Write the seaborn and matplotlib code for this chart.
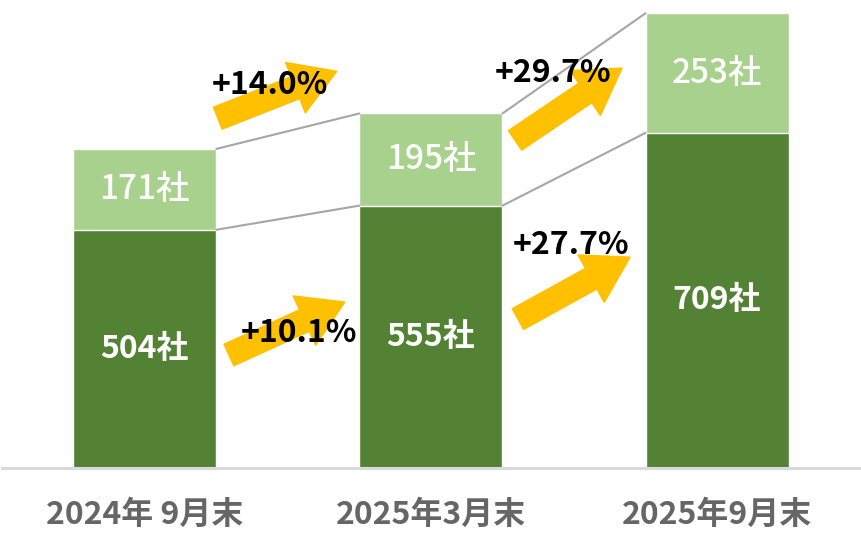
import matplotlib
matplotlib.use('Agg')
import matplotlib.pyplot as plt
import seaborn as sns
import pandas as pd
from matplotlib.patches import FancyArrowPatch

# データ
periods = ['2024年 9月末', '2025年3月末', '2025年9月末']
main_cnt = [504, 555, 709]
sub_cnt = [171, 195, 253]
total_cnt = [m + s for m, s in zip(main_cnt, sub_cnt)]
growth_total = ['+14.0%', '+29.7%']
growth_main = ['+10.1%', '+27.7%']

sns.set_style('white')
plt.rcParams['font.family'] = ['Noto Sans CJK JP', 'DejaVu Sans']

df = pd.DataFrame({'period': periods, 'main': main_cnt, 'total': total_cnt})

fig = plt.figure(figsize=(8.61, 5.47), dpi=100)
ax = fig.add_axes([0.002, 0.1444, 0.997, 0.8556])

dark = '#548235'
light = '#A9D18E'
arrow_c = '#FFC000'
line_c = '#A6A6A6'

sns.barplot(data=df, x='period', y='total', color=light, width=0.5, saturation=1, ax=ax)
sns.barplot(data=df, x='period', y='main', color=dark, width=0.5, saturation=1, ax=ax)

# 棒の間の線
for i in range(len(periods) - 1):
    ax.plot([i + 0.25, i + 0.75], [total_cnt[i], total_cnt[i + 1]], color=line_c, lw=1.5, zorder=1)
    ax.plot([i + 0.25, i + 0.75], [main_cnt[i], main_cnt[i + 1]], color=line_c, lw=1.5, zorder=1)

# ラベル
for i in range(len(periods)):
    ax.text(i, main_cnt[i] / 2, f'{main_cnt[i]}社', ha='center', va='center',
            color='white', fontsize=23, fontweight='bold')
    ax.text(i, main_cnt[i] + sub_cnt[i] / 2, f'{sub_cnt[i]}社', ha='center', va='center',
            color='white', fontsize=24, fontweight='medium')


def grow_arrow(p0, p1):
    a = FancyArrowPatch(p0, p1, arrowstyle='simple,head_length=32,head_width=39,tail_width=17',
                        mutation_scale=1, color=arrow_c, shrinkA=0, shrinkB=0, zorder=3)
    ax.add_patch(a)


# 矢印 (上段: 合計, 下段: 本体)
grow_arrow((0.255, 740), (0.671, 839))
grow_arrow((0.294, 239), (0.699, 351))
grow_arrow((1.294, 693), (1.668, 846))
grow_arrow((1.304, 315), (1.696, 446))

pct_kw = dict(ha='center', va='center', fontsize=23, fontweight='bold', color='black', zorder=4)
ax.text(0.437, 810, growth_total[0], **pct_kw)
ax.text(1.427, 835, growth_total[1], **pct_kw)
ax.text(0.538, 285, growth_main[0], **pct_kw)
ax.text(1.490, 471, growth_main[1], **pct_kw)

ax.set_xlim(-0.5, 2.5)
ax.set_ylim(0, 990)
ax.set_xlabel('')
ax.set_ylabel('')
ax.set_yticks([])
for s in ['top', 'right', 'left']:
    ax.spines[s].set_visible(False)
ax.spines['bottom'].set_color('#D9D9D9')
ax.spines['bottom'].set_linewidth(2.2)
ax.tick_params(axis='x', length=0, pad=22, labelsize=23, labelcolor='#666666')
for lab in ax.get_xticklabels():
    lab.set_fontweight('bold')

fig.savefig('out.png', dpi=100)
